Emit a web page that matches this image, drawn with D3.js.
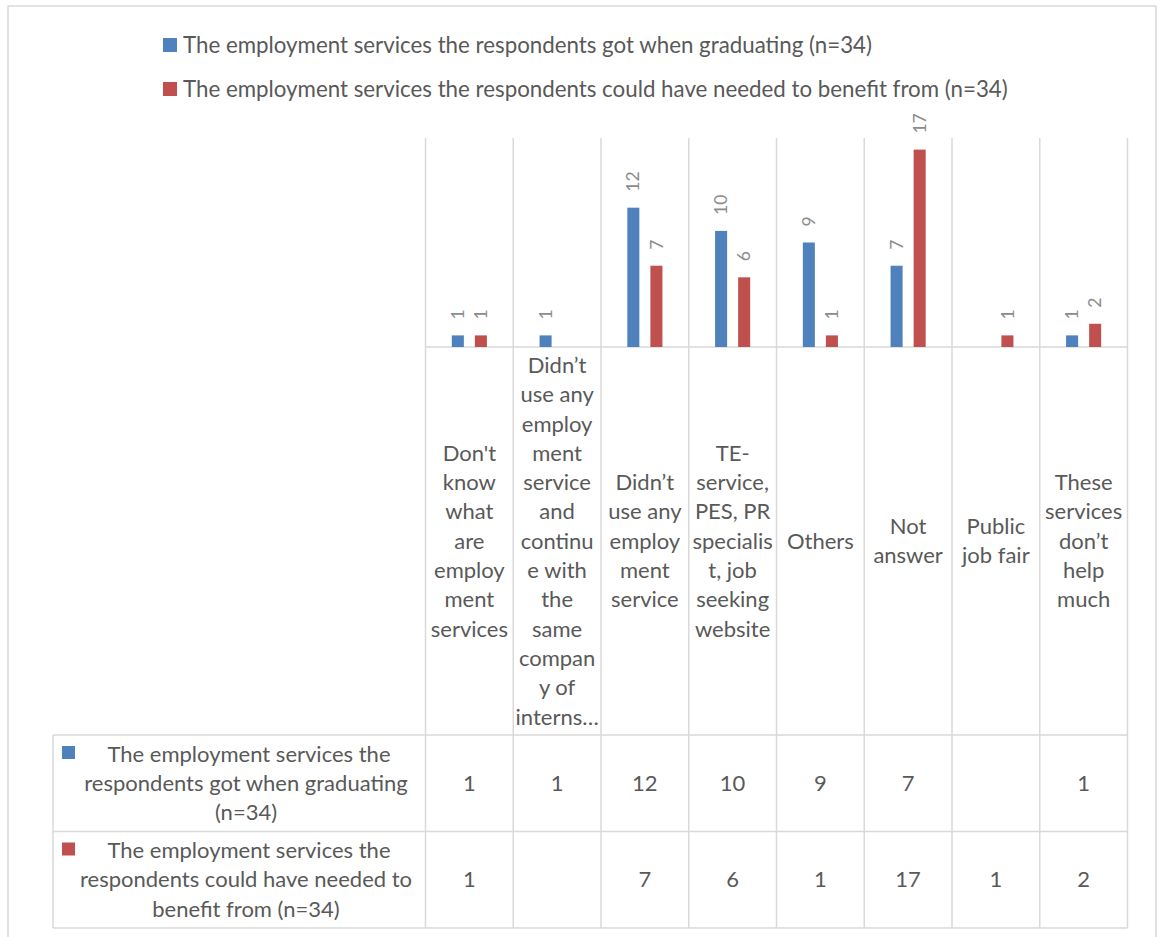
<!DOCTYPE html>
<html>
<head>
<meta charset="utf-8">
<script src="https://cdn.jsdelivr.net/npm/d3@7"></script>
<style>
  html, body { margin: 0; padding: 0; background: #fff; }
  svg text { font-family: Lato, "Open Sans", sans-serif; fill: #595959; }
</style>
</head>
<body>
<svg id="chart" width="1160" height="937"></svg>
<script>
// Category labels, already broken into the lines shown under each column
const categoryLines = [
  ["Don't", "know", "what", "are", "employ", "ment", "services"],
  ["Didn’t", "use any", "employ", "ment", "service", "and", "continu", "e with", "the", "same", "compan", "y of", "interns…"],
  ["Didn’t", "use any", "employ", "ment", "service"],
  ["TE-", "service,", "PES, PR", "specialis", "t, job", "seeking", "website"],
  ["Others"],
  ["Not", "answer"],
  ["Public", "job fair"],
  ["These", "services", "don’t", "help", "much"]
];
const categories = categoryLines.map(l => l.join(" "));

const seriesNames = [
  "The employment services the respondents got when graduating (n=34)",
  "The employment services the respondents could have needed to benefit from (n=34)"
];
// Row headers of the data table, wrapped as displayed
const seriesTableLines = [
  ["The employment services the", "respondents got when graduating", "(n=34)"],
  ["The employment services the", "respondents could have needed to", "benefit from (n=34)"]
];
const gotValues    = [1, 1, 12, 10, 9, 7, null, 1];
const neededValues = [1, null, 7, 6, 1, 17, 1, 2];
const seriesColors = ["#4F81BD", "#C0504D"];

const seriesValues = [gotValues, neededValues];

const svg = d3.select("#chart");
const grid = "#D9D9D9";

// Chart frame
svg.append("rect")
  .attr("x", 8).attr("y", 6).attr("width", 1148).attr("height", 960)
  .attr("fill", "none").attr("stroke", grid).attr("stroke-width", 1.5);

// Geometry
const plotLeft = 425.5, plotRight = 1127.5;
const plotTop = 138, baseY = 347;
const tableTop = 735, rowH = 96.5, tableLeft = 53;
const tableBottom = tableTop + 2 * rowH;

const x0 = d3.scaleBand().domain(categories).range([plotLeft, plotRight]);
const bw = x0.bandwidth();
const x1 = d3.scaleBand().domain([0, 1]).range([bw * 0.3, bw * 0.7]).paddingInner(11 / 23);
const y = d3.scaleLinear().domain([0, 18]).range([baseY, plotTop]);

// Legend
const legend = svg.append("g");
seriesNames.forEach((name, i) => {
  const cy = 45 + i * 44;
  legend.append("rect").attr("x", 163).attr("y", cy - 7).attr("width", 14).attr("height", 14)
    .attr("fill", seriesColors[i]);
  legend.append("text").attr("x", 183).attr("y", cy).attr("dy", "0.35em")
    .attr("font-size", 22.3).text(name);
});

// Column separators running from the plot top through the data table
const bounds = categories.map(c => x0(c)).concat([plotRight]);
svg.append("g").selectAll("line").data(bounds).join("line")
  .attr("x1", d => d).attr("x2", d => d)
  .attr("y1", plotTop).attr("y2", tableBottom)
  .attr("stroke", grid).attr("stroke-width", 1.5);

// Axis baseline
svg.append("line").attr("x1", plotLeft).attr("x2", plotRight)
  .attr("y1", baseY).attr("y2", baseY).attr("stroke", grid).attr("stroke-width", 1.5);

// Table horizontal rules and left column edges
[tableTop, tableTop + rowH, tableBottom].forEach(yy => {
  svg.append("line").attr("x1", tableLeft).attr("x2", plotRight)
    .attr("y1", yy).attr("y2", yy).attr("stroke", grid).attr("stroke-width", 1.5);
});
svg.append("line").attr("x1", tableLeft).attr("x2", tableLeft)
  .attr("y1", tableTop).attr("y2", tableBottom).attr("stroke", grid).attr("stroke-width", 1.5);

// Bars
const bars = svg.append("g");
seriesValues.forEach((vals, s) => {
  const pts = categories.map((c, i) => ({ c, v: vals[i] })).filter(d => d.v != null);
  bars.selectAll(null).data(pts).join("rect")
    .attr("x", d => x0(d.c) + x1(s))
    .attr("width", x1.bandwidth())
    .attr("y", d => y(d.v))
    .attr("height", d => baseY - y(d.v))
    .attr("fill", seriesColors[s]);
  // Rotated value labels above each bar
  bars.selectAll(null).data(pts).join("text")
    .attr("transform", d => `translate(${x0(d.c) + x1(s) + x1.bandwidth() / 2},${y(d.v) - 16}) rotate(-90)`)
    .attr("dy", "0.35em")
    .attr("font-size", 17.5)
    .style("fill", "#8c8c8c")
    .text(d => d.v);
});

// Category labels, vertically centred between the axis and the table
const lineH = 29.3;
const labelMid = (baseY + tableTop) / 2;
const catG = svg.append("g").attr("font-size", 22).attr("text-anchor", "middle");
categoryLines.forEach((lines, i) => {
  const cx = x0(categories[i]) + bw / 2;
  const start = labelMid - (lines.length - 1) * lineH / 2;
  lines.forEach((ln, j) => {
    catG.append("text").attr("x", cx).attr("y", start + j * lineH).attr("dy", "0.35em").text(ln);
  });
});

// Data table
const tab = svg.append("g").attr("font-size", 22).attr("text-anchor", "middle");
seriesTableLines.forEach((lines, s) => {
  const midY = tableTop + rowH * s + rowH / 2;
  svg.append("rect").attr("x", 62).attr("y", tableTop + rowH * s + 11)
    .attr("width", 13).attr("height", 13).attr("fill", seriesColors[s]);
  const start = midY - (lines.length - 1) * lineH / 2;
  lines.forEach((ln, j) => {
    const xOff = j === 0 ? 3 : 0;
    tab.append("text").attr("x", 246 + xOff).attr("y", start + j * lineH).attr("dy", "0.35em").text(ln);
  });
  seriesValues[s].forEach((v, i) => {
    if (v == null) return;
    tab.append("text").attr("x", x0(categories[i]) + bw / 2).attr("y", midY)
      .attr("dy", "0.35em").text(v);
  });
});
</script>
</body>
</html>
